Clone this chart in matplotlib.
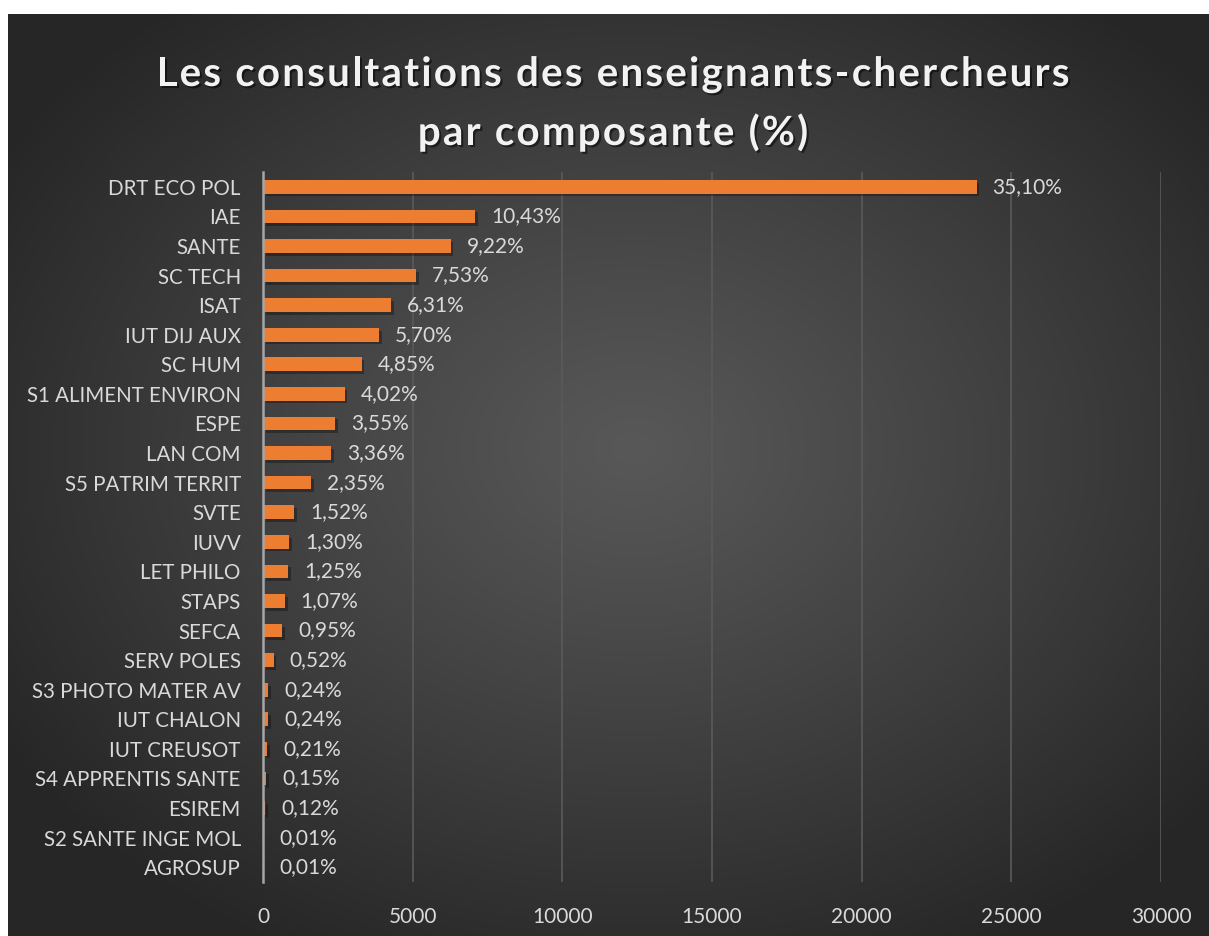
import numpy as np
import matplotlib
matplotlib.use("Agg")
import matplotlib.pyplot as plt
import matplotlib.patheffects as pe
from matplotlib import font_manager, ft2font

categories = ["DRT ECO POL", "IAE", "SANTE", "SC TECH", "ISAT", "IUT DIJ AUX",
              "SC HUM", "S1 ALIMENT ENVIRON", "ESPE", "LAN COM", "S5 PATRIM TERRIT",
              "SVTE", "IUVV", "LET PHILO", "STAPS", "SEFCA", "SERV POLES",
              "S3 PHOTO MATER AV", "IUT CHALON", "IUT CREUSOT", "S4 APPRENTIS SANTE",
              "ESIREM", "S2 SANTE INGE MOL", "AGROSUP"]
values = [23840, 7085, 6265, 5115, 4285, 3870, 3295, 2730, 2410, 2280, 1595,
          1030, 883, 849, 727, 645, 353, 163, 163, 143, 102, 81, 7, 7]
pct_labels = ["35,10%", "10,43%", "9,22%", "7,53%", "6,31%", "5,70%", "4,85%",
              "4,02%", "3,55%", "3,36%", "2,35%", "1,52%", "1,30%", "1,25%",
              "1,07%", "0,95%", "0,52%", "0,24%", "0,24%", "0,21%", "0,15%",
              "0,12%", "0,01%", "0,01%"]
xticks = [0, 5000, 10000, 15000, 20000, 25000, 30000]
title_lines = ["Les consultations des enseignants-chercheurs", "par composante (%)"]

W, H = 1209, 936
DPI = 100
fig = plt.figure(figsize=(W / DPI, H / DPI), dpi=DPI)
fig.patch.set_facecolor("white")

# background panel with radial gradient
bx0, by0 = 8, 14
bg = fig.add_axes([bx0 / W, 0, 1 - bx0 / W, 1 - by0 / H])
bg.set_axis_off()
ny, nx = 400, 500
yy, xx = np.mgrid[0:ny, 0:nx]
cx, cy = nx * 0.52, ny * 0.47
r = np.sqrt(((xx - cx) / (nx * 0.62)) ** 2 + ((yy - cy) / (ny * 0.62)) ** 2)
r = np.clip(r, 0, 1)
inner, outer = 0x58 / 255, 0x26 / 255
g = inner + (outer - inner) * r ** 1.1
img = np.dstack([g, g, g])
bg.imshow(img, aspect="auto", extent=[0, 1, 0, 1], origin="upper")
bg.set_xlim(0, 1)
bg.set_ylim(0, 1)

# title with letter spacing (drawn glyph by glyph)
tfam, tsize = "Lato", 29
tprop = font_manager.FontProperties(family=tfam, weight="bold", size=tsize)
font = ft2font.FT2Font(font_manager.findfont(tprop))
font.set_size(tsize, DPI)


def advances(s):
    out = []
    for ch in s:
        gl = font.load_char(ord(ch))
        out.append(gl.linearHoriAdvance / 65536.0)
    return out


adv1 = advances(title_lines[0])
target_w = 913.0
spacing = max(0.0, (target_w - sum(adv1)) / (len(title_lines[0]) - 1))
baselines = [86, 145]
center_x = 613.0
shadow = [pe.withSimplePatchShadow(offset=(1.5, -1.5), shadow_rgbFace="black", alpha=0.5)]
for line, base in zip(title_lines, baselines):
    adv = advances(line)
    total = sum(adv) + spacing * (len(line) - 1)
    x = center_x - total / 2
    for ch, a in zip(line, adv):
        if ch != " ":
            fig.text(x / W, 1 - base / H, ch, ha="left", va="baseline",
                     fontproperties=tprop, color="#f2f2f2", path_effects=shadow)
        x += a + spacing

left, right = 263 / W, 1161 / W
bottom, top = (H - 882) / H, (H - 172) / H
ax = fig.add_axes([left, bottom, right - left, top - bottom])
ax.patch.set_alpha(0)

y = np.arange(len(categories))
bars = ax.barh(y, values, height=0.46, color="#ED7D31", zorder=3)
for b in bars:
    b.set_path_effects([pe.SimplePatchShadow(offset=(2, -2), shadow_rgbFace="black", alpha=0.3),
                        pe.Normal()])

for yi, v, lab in zip(y, values, pct_labels):
    ax.annotate(lab, xy=(v, yi), xytext=(16, 0), textcoords="offset pixels",
                ha="left", va="center", color="#d9d9d9", fontsize=15, family="Lato")

ax.set_xlim(0, 30000)
ax.set_ylim(len(categories) - 0.5, -0.5)
ax.set_xticks(xticks)
ax.set_xticklabels([str(t) for t in xticks])
ax.set_yticks(y)
ax.set_yticklabels(categories)
ax.tick_params(axis="both", length=0, colors="#d9d9d9")
ax.tick_params(axis="y", pad=16, labelsize=14.8)
ax.tick_params(axis="x", pad=18, labelsize=15)
for lbl in ax.get_xticklabels() + ax.get_yticklabels():
    lbl.set_family("Lato")
ax.grid(axis="x", color="#5a5a5a", linewidth=1.2, zorder=0)
ax.set_axisbelow(True)
for s in ["top", "right", "bottom"]:
    ax.spines[s].set_visible(False)
ax.spines["left"].set_color("#a6a6a6")
ax.spines["left"].set_linewidth(1.8)
ax.spines["left"].set_zorder(4)

fig.savefig("out.png", dpi=DPI, facecolor=fig.get_facecolor())
